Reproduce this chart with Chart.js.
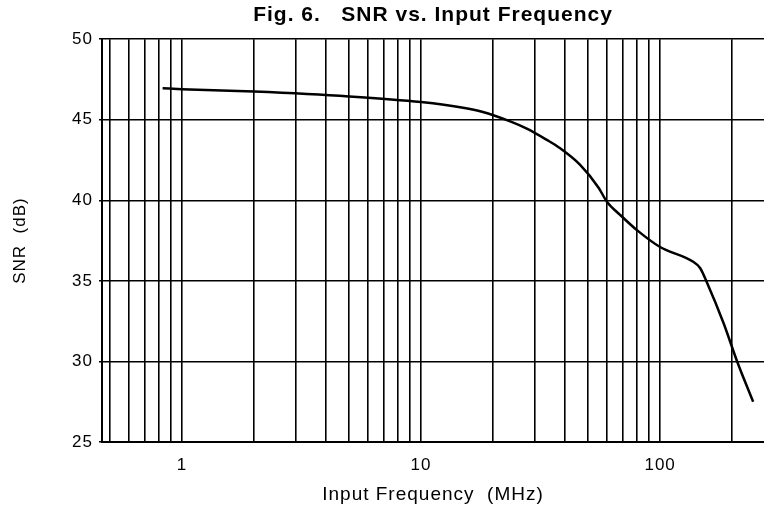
<!DOCTYPE html>
<html>
<head>
<meta charset="utf-8">
<script src="https://cdn.jsdelivr.net/npm/chart.js@4"></script>
<style>
  html, body { margin: 0; padding: 0; background: #fff; }
  #wrap { width: 764px; height: 510px; position: relative; }
</style>
</head>
<body>
<div id="wrap"><canvas id="c"></canvas></div>
<script>
// Data
const freqMHz = [0.83, 1, 2, 5, 10, 15, 18, 23.6, 27.7, 33.6, 37.6, 46.3, 55.2, 60, 68, 80, 100, 137, 147, 157, 184, 210, 245];
const snrDb   = [46.95, 46.9, 46.75, 46.45, 46.1, 45.75, 45.5, 44.9, 44.45, 43.75, 43.3, 42.2, 40.8, 39.9, 39.1, 38.15, 37.1, 36.2, 35.8, 34.9, 32.4, 30.0, 27.5];

// Axis ticks / gridlines
const xGridValues = [0.5, 0.6, 0.7, 0.8, 0.9, 1, 2, 3, 4, 5, 6, 7, 8, 9, 10, 20, 30, 40, 50, 60, 70, 80, 90, 100, 200];
const xTickLabels = [1, 10, 100];
const xMin = 0.463, xMax = 272;
const yTicks = [25, 30, 35, 40, 45, 50];

const titleText = 'Fig. 6.   SNR vs. Input Frequency';
const xTitle = 'Input Frequency  (MHz)';
const yTitle = 'SNR  (dB)';

const points = freqMHz.map((f, i) => ({ x: f, y: snrDb[i] }));
const FONT = "'Liberation Sans', Arial, Helvetica, sans-serif";

const spacingPlugin = {
  id: 'spacing',
  beforeDraw(chart) { try { chart.ctx.letterSpacing = '1px'; } catch (e) {} }
};

new Chart(document.getElementById('c'), {
  type: 'line',
  data: {
    datasets: [{
      data: points,
      borderColor: '#000',
      borderWidth: 2.5,
      pointRadius: 0,
      cubicInterpolationMode: 'monotone',
      fill: false
    }]
  },
  plugins: [spacingPlugin],
  options: {
    responsive: true,
    maintainAspectRatio: false,
    animation: false,
    layout: { padding: { left: 0, right: 0, top: 0, bottom: 0 } },
    plugins: {
      legend: { display: false },
      tooltip: { enabled: false },
      title: {
        display: true,
        fullSize: false,
        text: titleText,
        color: '#000',
        font: { family: FONT, size: 21, weight: 'bold' },
        padding: { top: 3, bottom: 11 }
      }
    },
    scales: {
      x: {
        type: 'logarithmic',
        min: xMin,
        max: xMax,
        afterBuildTicks: (scale) => { scale.ticks = xGridValues.map(v => ({ value: v })); },
        afterFit: (scale) => { scale.height = 68; },
        ticks: {
          autoSkip: false,
          maxRotation: 0,
          color: '#000',
          font: { family: FONT, size: 17 },
          padding: 13,
          callback: (v) => xTickLabels.includes(v) ? String(v) : ''
        },
        grid: { color: '#000', lineWidth: 1.6, drawTicks: false },
        border: { display: true, color: '#000', width: 2 },
        title: {
          display: true,
          text: xTitle,
          color: '#000',
          font: { family: FONT, size: 19 },
          padding: { top: 5 }
        }
      },
      y: {
        min: 25,
        max: 50,
        afterBuildTicks: (scale) => { scale.ticks = yTicks.map(v => ({ value: v })); },
        afterFit: (scale) => { scale.width = 102; },
        ticks: {
          color: '#000',
          font: { family: FONT, size: 17 },
          padding: 6
        },
        grid: { color: '#000', lineWidth: 1.6, drawTicks: true, tickLength: 3 },
        border: { display: true, color: '#000', width: 2 },
        title: {
          display: true,
          text: yTitle,
          color: '#000',
          font: { family: FONT, size: 17 },
          padding: { top: 10, bottom: 0 }
        }
      }
    }
  }
});
</script>
</body>
</html>
